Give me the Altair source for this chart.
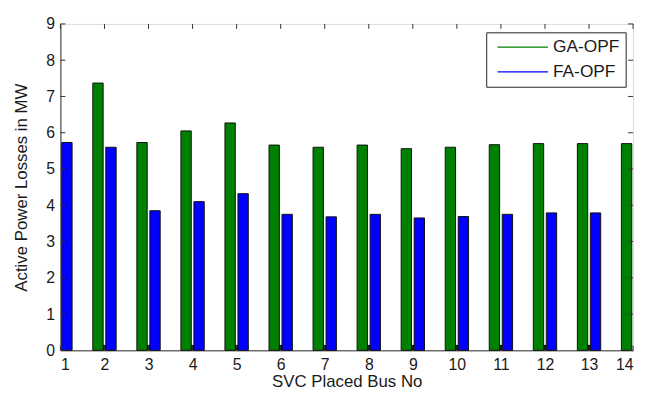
import altair as alt
import pandas as pd

buses = [1, 2, 3, 4, 5, 6, 7, 8, 9, 10, 11, 12, 13, 14]
ga_buses = [2, 3, 4, 5, 6, 7, 8, 9, 10, 11, 12, 13, 14]
ga_opf = [7.37, 5.73, 6.05, 6.27, 5.66, 5.60, 5.66, 5.56, 5.60, 5.67, 5.70, 5.70, 5.70]
fa_buses = [1, 2, 3, 4, 5, 6, 7, 8, 9, 10, 11, 12, 13]
fa_opf = [5.73, 5.60, 3.85, 4.10, 4.32, 3.75, 3.68, 3.75, 3.65, 3.69, 3.75, 3.79, 3.79]
gap_buses = [2, 3, 4, 5, 6, 7, 8, 9, 10, 11, 12, 13]
gap_vals = [0.15] * 12
y_ticks = [0, 1, 2, 3, 4, 5, 6, 7, 8, 9]
series_names = ["GA-OPF", "FA-OPF"]
series_colors = ["#008000", "#0000ff"]

W, H = 579, 330
FONT = "Liberation Sans"
TXT = "#1a1a1a"

rows = []
for b, v in zip(ga_buses, ga_opf):
    rows.append({"bus": b, "value": v, "series": "GA-OPF", "lo": -0.265, "hi": -0.03})
for b, v in zip(fa_buses, fa_opf):
    rows.append({"bus": b, "value": v, "series": "FA-OPF", "lo": 0.03, "hi": 0.265})
bars_df = pd.DataFrame(rows)
gap_df = pd.DataFrame({"bus": gap_buses, "value": gap_vals})
xt_df = pd.DataFrame({"t": buses})
yt_df = pd.DataFrame({"t": y_ticks})
one_df = pd.DataFrame({"k": [0]})

xscale = alt.Scale(domain=[1, 14], nice=False, zero=False)
yscale = alt.Scale(domain=[0, 9], nice=False)
cscale = alt.Scale(domain=series_names, range=series_colors)

xaxis = alt.Axis(values=buses, title="SVC Placed Bus No", grid=False, tickSize=0,
                 labelPadding=6, labelFontSize=16, labelColor=TXT, labelFont=FONT,
                 labelOverlap=False,
                 titleFontSize=17, titleFont=FONT, titleColor=TXT, titleFontWeight="normal",
                 titleBaseline="middle", titleY=32, domainColor="#333")
yaxis = alt.Axis(values=y_ticks, title="Active Power Losses in MW", grid=False, tickSize=0,
                 labelPadding=6, labelFontSize=16, labelColor=TXT, labelFont=FONT,
                 labelOverlap=False,
                 titleFontSize=17, titleFont=FONT, titleColor=TXT, titleFontWeight="normal",
                 titleAngle=270, titleAlign="center", titleBaseline="middle",
                 titleX=-39, titleY=H / 2, domainColor="#333")

bars = alt.Chart(bars_df).transform_calculate(
    x0="datum.bus + datum.lo", x1="datum.bus + datum.hi"
).mark_bar(stroke="#111", strokeWidth=1).encode(
    x=alt.X("x0:Q", scale=xscale, axis=xaxis),
    x2="x1:Q",
    y=alt.Y("value:Q", scale=yscale, axis=yaxis),
    y2=alt.datum(0),
    fill=alt.Fill("series:N", scale=cscale, legend=None),
)

gap = alt.Chart(gap_df).transform_calculate(
    x0="datum.bus - 0.03", x1="datum.bus + 0.03"
).mark_bar(color="#000").encode(
    x=alt.X("x0:Q", scale=xscale, axis=xaxis), x2="x1:Q",
    y=alt.Y("value:Q", scale=yscale, axis=yaxis), y2=alt.datum(0)
)

tick_style = dict(color="#333", strokeWidth=1)
xt_top = alt.Chart(xt_df).mark_rule(**tick_style).encode(
    x=alt.X("t:Q", scale=xscale, axis=xaxis), y=alt.value(0), y2=alt.value(5))
xt_bot = alt.Chart(xt_df).mark_rule(**tick_style).encode(
    x=alt.X("t:Q", scale=xscale, axis=xaxis), y=alt.value(H), y2=alt.value(H - 5))
yt_left = alt.Chart(yt_df).mark_rule(**tick_style).encode(
    y=alt.Y("t:Q", scale=yscale, axis=yaxis), x=alt.value(0), x2=alt.value(5))
yt_right = alt.Chart(yt_df).mark_rule(**tick_style).encode(
    y=alt.Y("t:Q", scale=yscale, axis=yaxis), x=alt.value(W - 5), x2=alt.value(W))

# legend box (MATLAB style), drawn in pixel space of the plot area
LX0, LX1, LY0, LY1 = 431, 572, 9, 64
legend_layers = [
    alt.Chart(one_df).mark_rect(fill="white", stroke="#222", strokeWidth=1).encode(
        x=alt.value(LX0), x2=alt.value(LX1), y=alt.value(LY0), y2=alt.value(LY1))
]
for i, (name, col) in enumerate(zip(series_names, series_colors)):
    yy = 23.5 + 25 * i
    legend_layers.append(
        alt.Chart(one_df).mark_rule(color=col, strokeWidth=1.2).encode(
            x=alt.value(442), x2=alt.value(493), y=alt.value(yy))
    )
    legend_layers.append(
        alt.Chart(one_df).mark_text(text=name, align="left", baseline="middle",
                                    font=FONT, fontSize=17.5, color=TXT).encode(
            x=alt.value(498), y=alt.value(yy))
    )

chart = alt.layer(bars, gap, xt_top, xt_bot, yt_left, yt_right, *legend_layers).properties(
    width=W, height=H,
    autosize=alt.AutoSizeParams(type="none"),
    padding={"left": 53, "top": 14, "right": 8, "bottom": 38},
).configure_view(stroke="#333", strokeWidth=1).configure(background="white")

chart.save("out.html", embed_options={"renderer": "svg", "actions": False})
